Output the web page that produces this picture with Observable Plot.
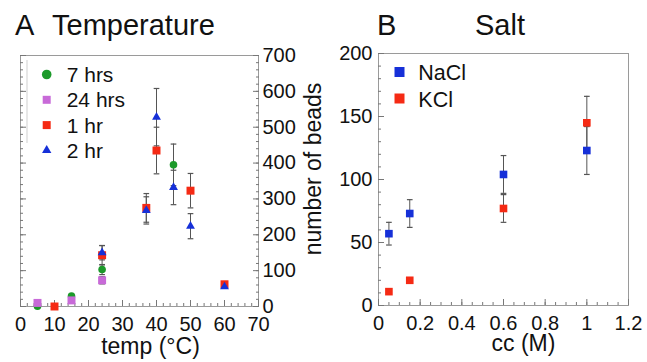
<!DOCTYPE html>
<html><head><meta charset="utf-8">
<script src="https://cdn.jsdelivr.net/npm/d3@7"></script>
<script src="https://cdn.jsdelivr.net/npm/@observablehq/plot@0.6"></script>
<style>
body{margin:0;background:#fff;font-family:"Liberation Sans",Arial,sans-serif;}
#wrap{position:relative;width:647px;height:362px;overflow:hidden;background:#fff}
.panel{position:absolute;top:0}
.title{position:absolute;font-size:29px;line-height:29px;color:#111;white-space:nowrap}
#overlay{position:absolute;left:0;top:0;pointer-events:none}
</style></head><body><div id="wrap"></div>
<script>
// ---- Panel A: Temperature ----
const tempSeries = ["7 hrs", "24 hrs", "1 hr", "2 hr"];
const temp7h = [5, 15, 24, 45];
const beads7h = [1, 29, 103, 395];
const err7h = [0, 0, 14, 58];
const temp24h = [5, 15, 24];
const beads24h = [10, 17, 73];
const err24h = [0, 0, 10];
const temp1h = [10, 24, 37, 40, 50, 60];
const beads1h = [0, 143, 275, 435, 323, 62];
const err1h = [0, 27, 40, 65, 48, 0];
const temp2h = [24, 37, 40, 45, 50, 60];
const beads2h = [150, 268, 528, 332, 224, 55];
const err2h = [20, 38, 80, 48, 35, 0];
const tempTicks = [0, 10, 20, 30, 40, 50, 60, 70];
const beadTicksA = [0, 100, 200, 300, 400, 500, 600, 700];

// ---- Panel B: Salt ----
const saltSeries = ["NaCl", "KCl"];
const ccNaCl = [0.05, 0.15, 0.6, 1.0];
const beadsNaCl = [57, 73, 104, 123];
const errNaCl = [9, 11, 15, 19];
const ccKCl = [0.05, 0.15, 0.6, 1.0];
const beadsKCl = [11, 20, 77, 145];
const errKCl = [0, 0, 11, 21];
const ccTicks = [0, 0.2, 0.4, 0.6, 0.8, 1.0, 1.2];
const beadTicksB = [0, 50, 100, 150, 200];

const colors = {
  "7 hrs": "#1c9a2a", "24 hrs": "#c86ad8", "1 hr": "#f52a14", "2 hr": "#1630d8",
  "NaCl": "#1630d8", "KCl": "#f52a14"
};

function rows(xs, ys, es, s) { return xs.map((x, i) => ({x, y: ys[i], e: es[i], s})); }
const A7 = rows(temp7h, beads7h, err7h, tempSeries[0]);
const A24 = rows(temp24h, beads24h, err24h, tempSeries[1]);
const A1 = rows(temp1h, beads1h, err1h, tempSeries[2]);
const A2 = rows(temp2h, beads2h, err2h, tempSeries[3]);
const allA = [...A7, ...A24, ...A1, ...A2];
const BNa = rows(ccNaCl, beadsNaCl, errNaCl, saltSeries[0]);
const BK = rows(ccKCl, beadsKCl, errKCl, saltSeries[1]);
const allB = [...BNa, ...BK];

const cap = {draw(ctx, size) { const w = Math.sqrt(size) / 2; ctx.moveTo(-w, 0); ctx.lineTo(w, 0); }};

function errMarks(data) {
  const d = data.filter(r => r.e > 0);
  return [
    Plot.ruleX(d, {x: "x", y1: r => r.y - r.e, y2: r => r.y + r.e, stroke: "#555", strokeWidth: 1}),
    Plot.dot(d, {x: "x", y: r => r.y - r.e, symbol: cap, r: 3.2, stroke: "#555", strokeWidth: 1.2}),
    Plot.dot(d, {x: "x", y: r => r.y + r.e, symbol: cap, r: 3.2, stroke: "#555", strokeWidth: 1.2})
  ];
}

const font = "Liberation Sans, Arial, sans-serif";
const styleBase = {fontFamily: font, background: "transparent", overflow: "visible", color: "#111"};
const tickFont = 20;

const plotA = Plot.plot({
  width: 330, height: 362,
  marginTop: 55, marginBottom: 56, marginLeft: 20, marginRight: 72,
  x: {domain: [0, 70]},
  y: {domain: [0, 700]},
  style: styleBase,
  marks: [
    Plot.frame({stroke: "#9a9a9a"}),
    Plot.axisX({ticks: d3.range(0, 71, 2), tickSize: -3, tickFormat: () => "", stroke: "#777", label: null}),
    Plot.axisX({ticks: tempTicks, tickSize: -6, tickPadding: 16, fontSize: tickFont, stroke: "#777", tickFormat: d => String(d), label: null}),
    Plot.axisY({anchor: "left", ticks: d3.range(0, 701, 20), tickSize: -3, tickFormat: () => "", stroke: "#777", label: null}),
    Plot.axisY({anchor: "left", ticks: beadTicksA, tickSize: -6, tickFormat: () => "", stroke: "#777", label: null}),
    Plot.axisY({anchor: "right", ticks: d3.range(0, 701, 20), tickSize: -3, tickFormat: () => "", stroke: "#777", label: null}),
    Plot.axisY({anchor: "right", ticks: beadTicksA, tickSize: -6, tickPadding: 10, fontSize: tickFont, stroke: "#777", tickFormat: d => String(d), label: null}),
    Plot.text(["temp (°C)"], {frameAnchor: "bottom", text: d => d, dy: 40, dx: 11, fontSize: 23, fill: "#111", textAnchor: "middle", lineAnchor: "middle"}),
    Plot.text(["number of beads"], {frameAnchor: "right", text: d => d, rotate: -90, dx: 55, dy: -12, fontSize: 23, fill: "#111", textAnchor: "middle", lineAnchor: "middle"}),
    ...errMarks(allA),
    Plot.dot(A7, {x: "x", y: "y", symbol: "circle", r: 3.8, fill: colors["7 hrs"]}),
    Plot.dot(A24, {x: "x", y: "y", symbol: "square", r: 4.5, fill: colors["24 hrs"]}),
    Plot.dot(A1, {x: "x", y: "y", symbol: "square", r: 4.5, fill: colors["1 hr"]}),
    Plot.dot(A2, {x: "x", y: "y", symbol: "triangle", r: 3.3, fill: colors["2 hr"]})
  ]
});

const plotB = Plot.plot({
  width: 317, height: 362,
  marginTop: 53, marginBottom: 57, marginLeft: 48, marginRight: 19,
  x: {domain: [0, 1.2]},
  y: {domain: [0, 200]},
  style: styleBase,
  marks: [
    Plot.frame({stroke: "#9a9a9a"}),
    Plot.axisX({ticks: d3.range(0, 1.2001, 0.05), tickSize: -3, tickFormat: () => "", stroke: "#777", label: null}),
    Plot.axisX({ticks: ccTicks, tickSize: -6, tickPadding: 16, fontSize: tickFont, stroke: "#777", tickFormat: d => String(+d.toFixed(1)), label: null}),
    Plot.axisY({anchor: "left", ticks: d3.range(0, 201, 10), tickSize: -3, tickFormat: () => "", stroke: "#777", label: null}),
    Plot.axisY({anchor: "left", ticks: beadTicksB, tickSize: -6, tickPadding: 12, fontSize: tickFont, stroke: "#777", tickFormat: d => String(d), label: null}),
    Plot.text(["cc (M)"], {frameAnchor: "bottom", text: d => d, dy: 38, dx: 20, fontSize: 23, fill: "#111", textAnchor: "middle", lineAnchor: "middle"}),
    ...errMarks(allB),
    Plot.dot(BNa, {x: "x", y: "y", symbol: "square", r: 4.3, fill: colors["NaCl"]}),
    Plot.dot(BK, {x: "x", y: "y", symbol: "square", r: 4.3, fill: colors["KCl"]})
  ]
});

const wrap = document.getElementById("wrap");
const pa = document.createElement("div"); pa.className = "panel"; pa.style.left = "0px"; pa.appendChild(plotA); wrap.appendChild(pa);
const pb = document.createElement("div"); pb.className = "panel"; pb.style.left = "330px"; pb.appendChild(plotB); wrap.appendChild(pb);

function title(txt, left) {
  const t = document.createElement("div"); t.className = "title";
  t.textContent = txt; t.style.left = left + "px"; t.style.top = "10.5px";
  wrap.appendChild(t);
}
title("A", 15); title("Temperature", 52);
title("B", 377); title("Salt", 475);

// legends
const ov = d3.select(wrap).append("svg").attr("id", "overlay").attr("width", 647).attr("height", 362)
  .style("font-family", font);
ov.append("line").attr("x1", 27).attr("x2", 27).attr("y1", 60).attr("y2", 143).attr("stroke", "#cfcfcf");
const legA = [
  {s: tempSeries[0], sym: d3.symbolCircle, size: Math.PI * 4.8 * 4.8},
  {s: tempSeries[1], sym: d3.symbolSquare, size: 64},
  {s: tempSeries[2], sym: d3.symbolSquare, size: 64},
  {s: tempSeries[3], sym: d3.symbolTriangle, size: 38}
];
legA.forEach((d, i) => {
  const y = 74.5 + i * 25.3;
  ov.append("path").attr("d", d3.symbol(d.sym, d.size)()).attr("transform", `translate(46.7,${y})`).attr("fill", colors[d.s]);
  ov.append("text").attr("x", 66.7).attr("y", y + 7.6).attr("font-size", 21).attr("fill", "#111").text(d.s);
});
saltSeries.forEach((s, i) => {
  const y = 72 + i * 26.5;
  ov.append("path").attr("d", d3.symbol(d3.symbolSquare, 100)()).attr("transform", `translate(399.5,${y})`).attr("fill", colors[s]);
  ov.append("text").attr("x", 418.3).attr("y", y + 8).attr("font-size", 21.5).attr("fill", "#111").text(s);
});
</script></body></html>
